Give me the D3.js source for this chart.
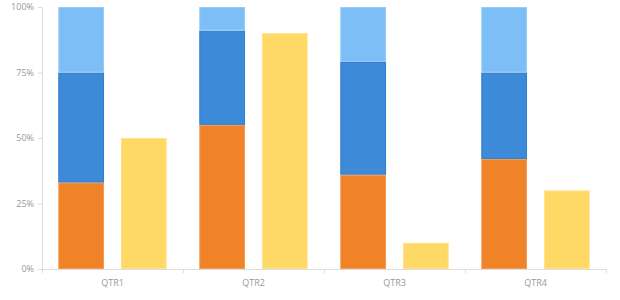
<!DOCTYPE html>
<html>
<head>
<meta charset="utf-8">
<script src="https://cdn.jsdelivr.net/npm/d3@7"></script>
<style>
  body { margin: 0; background: #fff; }
  svg { display: block; }
  .tick text { font-family: "Open Sans", "DejaVu Sans", sans-serif; font-size: 9px; fill: #999; }
</style>
</head>
<body>
<svg id="chart" width="620" height="300"></svg>
<script>
// quarters and the series values (percent)
const quarters = ["QTR1", "QTR2", "QTR3", "QTR4"];
const seriesA = [33, 55, 36, 42];   // orange, bottom of stack
const seriesB = [42, 36, 43, 33];   // blue, middle
const seriesC = [25, 9, 21, 25];    // light blue, top
const seriesD = [50, 90, 10, 30];   // yellow, separate bar
const yTicks = [0, 25, 50, 75, 100];

const stackKeys = ["a", "b", "c"];
const stackColors = { a: "#f08228", b: "#3d8ad8", c: "#7dbef6" };
const stackStrokes = { a: "#f49a52", b: "#2f7dcc", c: "#95ccf8" };

const rows = quarters.map((q, i) => ({ q, a: seriesA[i], b: seriesB[i], c: seriesC[i], d: seriesD[i] }));

const svg = d3.select("#chart");
const margin = { top: 7, right: 14, bottom: 31, left: 42 };
const width = 620 - margin.left - margin.right;
const height = 300 - margin.top - margin.bottom;
const g = svg.append("g").attr("transform", `translate(${margin.left},${margin.top})`);

const x = d3.scaleBand().domain(quarters).range([0, width]);
const inner = d3.scaleBand().domain(["stack", "single"]).range([0, x.bandwidth()])
    .paddingInner(0.27).paddingOuter(0.26);
const y = d3.scaleLinear().domain([0, 100]).range([height, 0]);

// axes
const yAxis = g.append("g")
    .call(d3.axisLeft(y).tickValues(yTicks).tickFormat(d => d + "%").tickSize(4).tickPadding(4));
yAxis.select(".domain").attr("stroke", "#ddd");
yAxis.selectAll(".tick line").attr("stroke", "#ddd");

const xAxis = g.append("g").attr("transform", `translate(0,${height})`)
    .call(d3.axisBottom(x).tickSize(0).tickPadding(11));
xAxis.select(".domain").attr("stroke", "#ddd");
// ticks between categories
xAxis.selectAll(".sep")
    .data(d3.range(quarters.length + 1))
    .join("line")
    .attr("class", "sep")
    .attr("x1", i => i * x.step() + 0.5)
    .attr("x2", i => i * x.step() + 0.5)
    .attr("y1", 0)
    .attr("y2", 4)
    .attr("stroke", "#ddd");

// stacked bars
const stacked = d3.stack().keys(stackKeys)(rows);
g.selectAll(".layer")
    .data(stacked)
    .join("g")
    .attr("class", "layer")
    .attr("fill", d => stackColors[d.key])
    .attr("stroke", d => stackStrokes[d.key])
    .selectAll("rect")
    .data(d => d)
    .join("rect")
    .attr("x", d => x(d.data.q) + inner("stack") + 0.5)
    .attr("y", d => y(d[1]) + 0.5)
    .attr("width", inner.bandwidth() - 1)
    .attr("height", d => y(d[0]) - y(d[1]) - 1);

// yellow bars
g.selectAll(".single")
    .data(rows)
    .join("rect")
    .attr("class", "single")
    .attr("x", d => x(d.q) + inner("single") + 0.5)
    .attr("y", d => y(d.d) + 0.5)
    .attr("width", inner.bandwidth() - 1)
    .attr("height", d => y(0) - y(d.d) - 1)
    .attr("fill", "#ffd966")
    .attr("stroke", "#ffe28a");
</script>
</body>
</html>
